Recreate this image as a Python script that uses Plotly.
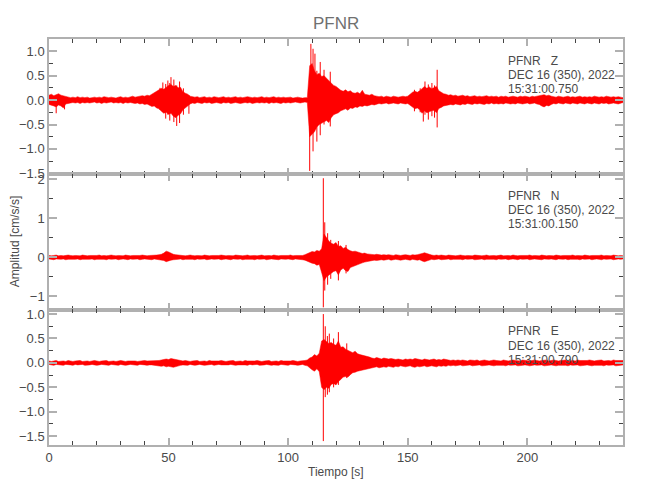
import plotly.graph_objects as go
from plotly.subplots import make_subplots

# time axis, one envelope value per second (0 .. 240 s)
TIME_S = list(range(241))

# vertical component: upper / lower envelope (cm/s/s)
Z_UPPER = [
    0.10, 0.12, 0.09, 0.11, 0.13, 0.10, 0.09, 0.07, 0.06, 0.05,  # 0
    0.06, 0.05, 0.07, 0.05, 0.06, 0.05, 0.06, 0.04, 0.05, 0.06,  # 10
    0.05, 0.06, 0.05, 0.07, 0.06, 0.05, 0.06, 0.05, 0.04, 0.06,  # 20
    0.07, 0.05, 0.06, 0.05, 0.06, 0.08, 0.06, 0.07, 0.08, 0.09,  # 30
    0.08, 0.10, 0.09, 0.12, 0.14, 0.17, 0.20, 0.24, 0.22, 0.27,  # 40
    0.30, 0.32, 0.28, 0.30, 0.25, 0.26, 0.17, 0.14, 0.12, 0.08,  # 50
    0.07, 0.06, 0.07, 0.05, 0.06, 0.07, 0.05, 0.06, 0.05, 0.07,  # 60
    0.06, 0.05, 0.06, 0.07, 0.05, 0.06, 0.05, 0.06, 0.07, 0.05,  # 70
    0.06, 0.05, 0.06, 0.07, 0.06, 0.05, 0.06, 0.05, 0.06, 0.07,  # 80
    0.05, 0.06, 0.05, 0.06, 0.07, 0.05, 0.06, 0.05, 0.06, 0.05,  # 90
    0.05, 0.06, 0.04, 0.05, 0.06, 0.05, 0.04, 0.05, 0.05, 0.70,  # 100
    0.75, 0.60, 0.52, 0.55, 0.48, 0.50, 0.45, 0.40, 0.36, 0.30,  # 110
    0.28, 0.24, 0.20, 0.18, 0.21, 0.17, 0.19, 0.15, 0.14, 0.16,  # 120
    0.13, 0.20, 0.12, 0.11, 0.10, 0.12, 0.09, 0.08, 0.07, 0.08,  # 130
    0.06, 0.08, 0.07, 0.06, 0.08, 0.07, 0.06, 0.07, 0.08, 0.07,  # 140
    0.08, 0.12, 0.16, 0.18, 0.16, 0.19, 0.24, 0.28, 0.24, 0.27,  # 150
    0.23, 0.26, 0.28, 0.19, 0.16, 0.13, 0.12, 0.10, 0.11, 0.09,  # 160
    0.10, 0.08, 0.09, 0.10, 0.08, 0.09, 0.07, 0.08, 0.09, 0.07,  # 170
    0.08, 0.07, 0.08, 0.09, 0.07, 0.08, 0.07, 0.08, 0.06, 0.08,  # 180
    0.07, 0.08, 0.06, 0.07, 0.08, 0.07, 0.06, 0.08, 0.07, 0.08,  # 190
    0.07, 0.06, 0.08, 0.07, 0.08, 0.09, 0.10, 0.11, 0.09, 0.10,  # 200
    0.08, 0.07, 0.06, 0.08, 0.07, 0.06, 0.07, 0.08, 0.06, 0.07,  # 210
    0.06, 0.07, 0.08, 0.06, 0.07, 0.06, 0.07, 0.06, 0.08, 0.07,  # 220
    0.06, 0.07, 0.06, 0.08, 0.07, 0.06, 0.07, 0.06, 0.07, 0.06,  # 230
    0.05,
]
Z_LOWER = [
    -0.09, -0.11, -0.12, -0.14, -0.10, -0.12, -0.16, -0.08, -0.07, -0.06,
    -0.05, -0.06, -0.05, -0.07, -0.05, -0.06, -0.05, -0.06, -0.05, -0.04,
    -0.06, -0.05, -0.07, -0.05, -0.06, -0.05, -0.04, -0.06, -0.05, -0.06,
    -0.05, -0.07, -0.05, -0.06, -0.05, -0.06, -0.07, -0.06, -0.08, -0.07,
    -0.09, -0.08, -0.10, -0.13, -0.12, -0.16, -0.18, -0.23, -0.27, -0.25,
    -0.29, -0.27, -0.33, -0.36, -0.31, -0.28, -0.20, -0.17, -0.12, -0.08,
    -0.06, -0.07, -0.05, -0.06, -0.07, -0.05, -0.06, -0.05, -0.07, -0.06,
    -0.05, -0.06, -0.07, -0.05, -0.06, -0.05, -0.07, -0.06, -0.05, -0.06,
    -0.07, -0.06, -0.05, -0.06, -0.05, -0.07, -0.06, -0.05, -0.06, -0.05,
    -0.06, -0.05, -0.07, -0.05, -0.06, -0.05, -0.06, -0.07, -0.05, -0.06,
    -0.05, -0.06, -0.05, -0.04, -0.05, -0.06, -0.05, -0.04, -0.05, -0.75,
    -0.70, -0.65, -0.55, -0.50, -0.48, -0.45, -0.42, -0.46, -0.36, -0.30,
    -0.28, -0.26, -0.22, -0.20, -0.18, -0.21, -0.16, -0.17, -0.14, -0.15,
    -0.12, -0.13, -0.11, -0.12, -0.10, -0.09, -0.10, -0.08, -0.07, -0.08,
    -0.07, -0.06, -0.08, -0.07, -0.06, -0.07, -0.08, -0.06, -0.07, -0.08,
    -0.07, -0.10, -0.14, -0.18, -0.16, -0.20, -0.27, -0.22, -0.26, -0.24,
    -0.22, -0.21, -0.26, -0.17, -0.15, -0.12, -0.11, -0.10, -0.09, -0.10,
    -0.08, -0.09, -0.10, -0.08, -0.09, -0.07, -0.08, -0.09, -0.07, -0.08,
    -0.07, -0.08, -0.09, -0.07, -0.08, -0.06, -0.08, -0.07, -0.08, -0.07,
    -0.08, -0.06, -0.07, -0.08, -0.07, -0.08, -0.06, -0.07, -0.08, -0.07,
    -0.06, -0.08, -0.07, -0.06, -0.08, -0.09, -0.12, -0.14, -0.11, -0.12,
    -0.09, -0.07, -0.08, -0.06, -0.07, -0.08, -0.06, -0.07, -0.08, -0.06,
    -0.07, -0.08, -0.06, -0.07, -0.08, -0.06, -0.07, -0.08, -0.06, -0.07,
    -0.08, -0.06, -0.07, -0.06, -0.08, -0.07, -0.06, -0.07, -0.08, -0.06,
    -0.05,
]
# single large swings (time s, max, min)
Z_PEAK_T = [3.0, 6.5, 46.4, 47.6, 48.8, 49.7, 50.5, 51.0, 52.2, 53.4, 54.6, 56.2, 58.5,
            109.0, 109.5, 110.4, 111.2, 112.0, 113.4, 115.0, 117.6,
            152.8, 155.2, 156.5, 157.2, 158.6, 160.1, 161.2, 162.3]
Z_PEAK_HI = [0.05, 0.05, 0.25, 0.36, 0.33, 0.40, 0.35, 0.47, 0.42, 0.30, 0.38, 0.24, 0.10,
             0.40, 1.15, 1.05, 0.95, 0.60, 0.78, 0.62, 0.58,
             0.21, 0.24, 0.20, 0.38, 0.32, 0.35, 0.30, 0.62]
Z_PEAK_LO = [-0.27, -0.19, -0.20, -0.24, -0.38, -0.30, -0.42, -0.20, -0.45, -0.53, -0.47, -0.30, -0.28,
             -1.45, -0.60, -1.05, -0.50, -0.85, -0.72, -0.50, -0.54,
             -0.23, -0.25, -0.44, -0.30, -0.40, -0.33, -0.36, -0.56]

# north component
N_UPPER = [
    0.05, 0.04, 0.05, 0.06, 0.04, 0.05, 0.04, 0.05, 0.06, 0.05,  # 0
    0.04, 0.05, 0.05, 0.04, 0.06, 0.05, 0.04, 0.05, 0.05, 0.04,  # 10
    0.05, 0.06, 0.04, 0.05, 0.04, 0.05, 0.06, 0.05, 0.04, 0.05,  # 20
    0.05, 0.04, 0.06, 0.05, 0.04, 0.05, 0.05, 0.04, 0.05, 0.06,  # 30
    0.05, 0.04, 0.05, 0.05, 0.06, 0.06, 0.07, 0.08, 0.11, 0.16,  # 40
    0.14, 0.10, 0.08, 0.07, 0.06, 0.05, 0.05, 0.04, 0.05, 0.06,  # 50
    0.05, 0.04, 0.05, 0.05, 0.04, 0.06, 0.05, 0.04, 0.05, 0.05,  # 60
    0.04, 0.05, 0.06, 0.05, 0.04, 0.05, 0.05, 0.04, 0.06, 0.05,  # 70
    0.05, 0.04, 0.05, 0.06, 0.04, 0.05, 0.05, 0.04, 0.05, 0.06,  # 80
    0.04, 0.05, 0.05, 0.04, 0.06, 0.05, 0.04, 0.05, 0.05, 0.04,  # 90
    0.05, 0.06, 0.04, 0.05, 0.05, 0.06, 0.05, 0.07, 0.09, 0.12,  # 100
    0.15, 0.14, 0.18, 0.16, 0.22, 0.60, 0.50, 0.42, 0.36, 0.34,  # 110
    0.38, 0.28, 0.30, 0.23, 0.26, 0.20, 0.17, 0.15, 0.16, 0.13,  # 120
    0.12, 0.10, 0.11, 0.09, 0.08, 0.08, 0.07, 0.08, 0.07, 0.06,  # 130
    0.07, 0.06, 0.07, 0.06, 0.05, 0.07, 0.06, 0.05, 0.06, 0.07,  # 140
    0.06, 0.05, 0.07, 0.06, 0.07, 0.08, 0.10, 0.12, 0.09, 0.08,  # 150
    0.06, 0.05, 0.06, 0.05, 0.06, 0.05, 0.04, 0.06, 0.05, 0.05,  # 160
    0.04, 0.05, 0.06, 0.05, 0.04, 0.05, 0.05, 0.04, 0.06, 0.05,  # 170
    0.05, 0.04, 0.05, 0.06, 0.04, 0.05, 0.05, 0.04, 0.05, 0.06,  # 180
    0.04, 0.05, 0.05, 0.04, 0.06, 0.05, 0.04, 0.05, 0.05, 0.04,  # 190
    0.05, 0.06, 0.04, 0.05, 0.05, 0.04, 0.06, 0.05, 0.04, 0.05,  # 200
    0.05, 0.04, 0.06, 0.05, 0.04, 0.05, 0.05, 0.04, 0.05, 0.06,  # 210
    0.04, 0.05, 0.05, 0.04, 0.06, 0.05, 0.04, 0.05, 0.05, 0.04,  # 220
    0.05, 0.06, 0.04, 0.05, 0.05, 0.04, 0.06, 0.05, 0.04, 0.05,  # 230
    0.04,
]
N_LOWER = [
    -0.04, -0.05, -0.06, -0.04, -0.05, -0.05, -0.04, -0.06, -0.05, -0.04,
    -0.05, -0.05, -0.04, -0.06, -0.05, -0.04, -0.05, -0.05, -0.04, -0.06,
    -0.05, -0.04, -0.05, -0.05, -0.06, -0.04, -0.05, -0.05, -0.04, -0.06,
    -0.05, -0.04, -0.05, -0.06, -0.04, -0.05, -0.05, -0.04, -0.06, -0.05,
    -0.04, -0.05, -0.05, -0.06, -0.04, -0.05, -0.06, -0.07, -0.08, -0.11,
    -0.09, -0.07, -0.06, -0.05, -0.05, -0.04, -0.06, -0.05, -0.04, -0.05,
    -0.05, -0.06, -0.04, -0.05, -0.05, -0.04, -0.06, -0.05, -0.04, -0.05,
    -0.05, -0.04, -0.06, -0.05, -0.04, -0.05, -0.06, -0.04, -0.05, -0.05,
    -0.04, -0.06, -0.05, -0.04, -0.05, -0.05, -0.06, -0.04, -0.05, -0.05,
    -0.04, -0.06, -0.05, -0.04, -0.05, -0.05, -0.06, -0.04, -0.05, -0.05,
    -0.04, -0.05, -0.06, -0.04, -0.05, -0.05, -0.06, -0.07, -0.10, -0.12,
    -0.15, -0.16, -0.20, -0.18, -0.40, -0.60, -0.50, -0.46, -0.40, -0.36,
    -0.34, -0.45, -0.32, -0.28, -0.34, -0.36, -0.26, -0.23, -0.21, -0.19,
    -0.16, -0.14, -0.12, -0.11, -0.10, -0.08, -0.07, -0.08, -0.07, -0.06,
    -0.07, -0.06, -0.05, -0.07, -0.06, -0.05, -0.06, -0.07, -0.06, -0.05,
    -0.06, -0.07, -0.05, -0.06, -0.07, -0.06, -0.09, -0.11, -0.10, -0.07,
    -0.05, -0.06, -0.05, -0.04, -0.06, -0.05, -0.05, -0.04, -0.06, -0.05,
    -0.04, -0.05, -0.05, -0.06, -0.04, -0.05, -0.05, -0.04, -0.06, -0.05,
    -0.05, -0.04, -0.06, -0.05, -0.04, -0.05, -0.05, -0.06, -0.04, -0.05,
    -0.05, -0.04, -0.06, -0.05, -0.04, -0.05, -0.06, -0.04, -0.05, -0.05,
    -0.04, -0.06, -0.05, -0.04, -0.05, -0.05, -0.06, -0.04, -0.05, -0.05,
    -0.04, -0.05, -0.06, -0.04, -0.05, -0.05, -0.04, -0.06, -0.05, -0.04,
    -0.05, -0.05, -0.06, -0.04, -0.05, -0.05, -0.04, -0.06, -0.05, -0.04,
    -0.05, -0.06, -0.04, -0.05, -0.05, -0.04, -0.06, -0.05, -0.04, -0.05,
    -0.04,
]
N_PEAK_T = [114.7, 115.3, 116.5, 117.8, 121.0, 124.2]
N_PEAK_HI = [2.03, 0.90, 0.62, 0.45, 0.42, 0.32]
N_PEAK_LO = [-1.28, -0.85, -0.70, -0.55, -0.59, -0.41]

# east component
E_UPPER = [
    0.04, 0.03, 0.04, 0.05, 0.03, 0.04, 0.04, 0.03, 0.05, 0.04,  # 0
    0.03, 0.04, 0.04, 0.05, 0.03, 0.04, 0.04, 0.03, 0.04, 0.05,  # 10
    0.04, 0.03, 0.04, 0.04, 0.05, 0.03, 0.04, 0.04, 0.03, 0.04,  # 20
    0.05, 0.04, 0.03, 0.04, 0.04, 0.05, 0.04, 0.03, 0.04, 0.04,  # 30
    0.05, 0.04, 0.04, 0.05, 0.04, 0.05, 0.05, 0.06, 0.07, 0.08,  # 40
    0.07, 0.09, 0.08, 0.07, 0.06, 0.05, 0.04, 0.05, 0.04, 0.03,  # 50
    0.04, 0.04, 0.05, 0.03, 0.04, 0.04, 0.03, 0.05, 0.04, 0.04,  # 60
    0.03, 0.04, 0.05, 0.04, 0.03, 0.04, 0.04, 0.05, 0.03, 0.04,  # 70
    0.04, 0.03, 0.05, 0.04, 0.04, 0.03, 0.04, 0.05, 0.04, 0.03,  # 80
    0.04, 0.04, 0.05, 0.03, 0.04, 0.04, 0.03, 0.05, 0.04, 0.04,  # 90
    0.03, 0.04, 0.05, 0.04, 0.03, 0.04, 0.04, 0.05, 0.06, 0.10,  # 100
    0.12, 0.17, 0.14, 0.20, 0.45, 0.48, 0.44, 0.40, 0.42, 0.38,  # 110
    0.36, 0.45, 0.32, 0.33, 0.28, 0.26, 0.23, 0.21, 0.24, 0.19,  # 120
    0.17, 0.16, 0.15, 0.13, 0.12, 0.10, 0.09, 0.11, 0.09, 0.08,  # 130
    0.10, 0.09, 0.08, 0.09, 0.08, 0.07, 0.08, 0.07, 0.06, 0.08,  # 140
    0.07, 0.08, 0.07, 0.09, 0.08, 0.07, 0.06, 0.08, 0.07, 0.06,  # 150
    0.07, 0.08, 0.06, 0.07, 0.06, 0.08, 0.07, 0.06, 0.05, 0.06,  # 160
    0.05, 0.06, 0.05, 0.06, 0.05, 0.04, 0.06, 0.05, 0.05, 0.06,  # 170
    0.04, 0.05, 0.06, 0.05, 0.04, 0.05, 0.06, 0.05, 0.05, 0.04,  # 180
    0.06, 0.05, 0.04, 0.05, 0.06, 0.05, 0.05, 0.04, 0.06, 0.05,  # 190
    0.05, 0.04, 0.05, 0.06, 0.05, 0.04, 0.05, 0.05, 0.06, 0.04,  # 200
    0.05, 0.06, 0.05, 0.04, 0.05, 0.05, 0.06, 0.04, 0.05, 0.05,  # 210
    0.04, 0.06, 0.05, 0.05, 0.04, 0.05, 0.06, 0.05, 0.04, 0.05,  # 220
    0.05, 0.06, 0.04, 0.05, 0.05, 0.04, 0.06, 0.05, 0.05, 0.04,  # 230
    0.05,
]
E_LOWER = [
    -0.03, -0.04, -0.05, -0.03, -0.04, -0.04, -0.05, -0.03, -0.04, -0.04,
    -0.05, -0.03, -0.04, -0.04, -0.03, -0.05, -0.04, -0.04, -0.03, -0.04,
    -0.05, -0.04, -0.03, -0.04, -0.04, -0.05, -0.03, -0.04, -0.04, -0.05,
    -0.03, -0.04, -0.05, -0.04, -0.03, -0.04, -0.04, -0.05, -0.03, -0.04,
    -0.04, -0.05, -0.04, -0.04, -0.05, -0.05, -0.06, -0.07, -0.06, -0.08,
    -0.07, -0.08, -0.09, -0.07, -0.06, -0.05, -0.04, -0.04, -0.05, -0.03,
    -0.04, -0.05, -0.04, -0.03, -0.04, -0.05, -0.04, -0.04, -0.03, -0.05,
    -0.04, -0.03, -0.04, -0.05, -0.04, -0.04, -0.03, -0.04, -0.05, -0.04,
    -0.03, -0.04, -0.04, -0.05, -0.03, -0.04, -0.04, -0.03, -0.05, -0.04,
    -0.04, -0.03, -0.04, -0.05, -0.04, -0.04, -0.05, -0.03, -0.04, -0.04,
    -0.05, -0.03, -0.04, -0.04, -0.05, -0.04, -0.03, -0.05, -0.06, -0.10,
    -0.14, -0.17, -0.12, -0.18, -0.50, -0.55, -0.50, -0.52, -0.44, -0.42,
    -0.45, -0.38, -0.34, -0.29, -0.28, -0.29, -0.24, -0.20, -0.19, -0.17,
    -0.16, -0.15, -0.13, -0.12, -0.11, -0.10, -0.09, -0.08, -0.10, -0.09,
    -0.08, -0.09, -0.07, -0.08, -0.09, -0.07, -0.08, -0.06, -0.07, -0.08,
    -0.07, -0.06, -0.08, -0.09, -0.07, -0.08, -0.07, -0.06, -0.08, -0.07,
    -0.06, -0.07, -0.08, -0.06, -0.07, -0.06, -0.07, -0.05, -0.06, -0.05,
    -0.06, -0.05, -0.04, -0.06, -0.05, -0.05, -0.04, -0.06, -0.05, -0.05,
    -0.04, -0.06, -0.05, -0.05, -0.04, -0.05, -0.06, -0.05, -0.04, -0.05,
    -0.05, -0.06, -0.04, -0.05, -0.05, -0.04, -0.06, -0.05, -0.05, -0.04,
    -0.05, -0.06, -0.05, -0.04, -0.05, -0.05, -0.04, -0.06, -0.05, -0.05,
    -0.04, -0.05, -0.06, -0.05, -0.04, -0.05, -0.05, -0.06, -0.04, -0.05,
    -0.05, -0.04, -0.06, -0.05, -0.05, -0.04, -0.05, -0.06, -0.05, -0.04,
    -0.05, -0.05, -0.06, -0.04, -0.05, -0.05, -0.04, -0.06, -0.05, -0.05,
    -0.04,
]
E_PEAK_T = [114.7, 115.5, 116.4, 117.2, 119.0, 121.0, 124.5]
E_PEAK_HI = [1.00, 0.75, 0.55, 0.60, 0.50, 0.63, 0.40]
E_PEAK_LO = [-1.60, -0.70, -0.65, -0.60, -0.50, -0.45, -0.31]

COMPONENTS = ["Z", "N", "E"]
START_TIMES = ["15:31:00.750", "15:31:00.150", "15:31:00.790"]
DATE_LABEL = "DEC 16 (350), 2022"
STATION = "PFNR"

Y_RANGES = [[-1.52, 1.25], [-1.34, 2.13], [-1.68, 1.09]]
Y_TICKS = [[-1.5, -1.0, -0.5, 0.0, 0.5, 1.0], [-1, 0, 1, 2], [-1.5, -1.0, -0.5, 0.0, 0.5, 1.0]]
Y_MINOR = [0.25, 0.5, 0.25]

FONT = "Liberation Sans, Arial, sans-serif"
FRAME = "#b0b0b0"
TEXT = "#4a4a4a"
RED = "#ff0000"

envelopes = [
    (Z_UPPER, Z_LOWER, Z_PEAK_T, Z_PEAK_HI, Z_PEAK_LO),
    (N_UPPER, N_LOWER, N_PEAK_T, N_PEAK_HI, N_PEAK_LO),
    (E_UPPER, E_LOWER, E_PEAK_T, E_PEAK_HI, E_PEAK_LO),
]

fig = make_subplots(rows=3, cols=1, shared_xaxes=True, vertical_spacing=0)

for row, (upper, lower, pk_t, pk_hi, pk_lo) in enumerate(envelopes, start=1):
    fig.add_trace(
        go.Scatter(
            x=TIME_S + TIME_S[::-1],
            y=upper + lower[::-1],
            fill="toself",
            fillcolor=RED,
            mode="lines",
            line=dict(color=RED, width=0.5),
            hoverinfo="skip",
            showlegend=False,
        ),
        row=row,
        col=1,
    )
    sx, sy = [], []
    for t, hi, lo in zip(pk_t, pk_hi, pk_lo):
        sx += [t, t, None]
        sy += [lo, hi, None]
    fig.add_trace(
        go.Scatter(x=sx, y=sy, mode="lines", line=dict(color=RED, width=1),
                   hoverinfo="skip", showlegend=False),
        row=row,
        col=1,
    )

axis_common = dict(
    showline=True,
    linecolor=FRAME,
    linewidth=1.5,
    mirror="ticks",
    ticks="inside",
    tickcolor=FRAME,
    tickwidth=2,
    showgrid=False,
    zeroline=False,
    tickfont=dict(family=FONT, size=13, color=TEXT),
)

fig.update_xaxes(
    range=[0, 240],
    tickvals=[0, 50, 100, 150, 200],
    ticklen=7,
    minor=dict(ticks="inside", dtick=10, ticklen=4, tickwidth=1, tickcolor="#444444"),
    **axis_common,
)

for row in range(1, 4):
    fmt = "d" if row == 2 else ".1f"
    fig.update_yaxes(
        range=Y_RANGES[row - 1],
        tickvals=Y_TICKS[row - 1],
        tickformat=fmt,
        ticklen=8,
        minor=dict(ticks="inside", dtick=Y_MINOR[row - 1], ticklen=4, tickwidth=1, tickcolor="#444444"),
        row=row,
        col=1,
        **axis_common,
    )

annotations = []
for row in range(1, 4):
    yref = "y domain" if row == 1 else f"y{row} domain"
    lines = [f"{STATION}\u00a0\u00a0\u00a0{COMPONENTS[row - 1]}", DATE_LABEL, START_TIMES[row - 1]]
    for text, ypos in zip(lines, [0.84, 0.735, 0.63]):
        annotations.append(dict(
            text=text, xref="x domain", yref=yref, x=0.797, y=ypos,
            xanchor="left", yanchor="middle", showarrow=False,
            font=dict(family=FONT, size=12, color=TEXT),
        ))

annotations += [
    dict(text=STATION, xref="paper", yref="paper", x=0.5, y=1.039,
         xanchor="center", yanchor="middle", showarrow=False,
         font=dict(family=FONT, size=17, color="#707070")),
    dict(text="Tiempo [s]", xref="paper", yref="paper", x=0.5, y=-0.066,
         xanchor="center", yanchor="middle", showarrow=False,
         font=dict(family=FONT, size=12, color=TEXT)),
    dict(text="Amplitud [cm/s/s]", xref="paper", yref="paper", x=-0.059, y=0.5,
         xanchor="center", yanchor="middle", textangle=-90, showarrow=False,
         font=dict(family=FONT, size=12, color=TEXT)),
]

# the page adds an 8 px body margin, so the margins are 8 px smaller at top/left
fig.update_layout(
    width=650,
    height=500,
    margin=dict(l=41, r=35, t=31, b=63),
    paper_bgcolor="white",
    plot_bgcolor="white",
    annotations=annotations,
    showlegend=False,
)

fig.write_html("out.html")
